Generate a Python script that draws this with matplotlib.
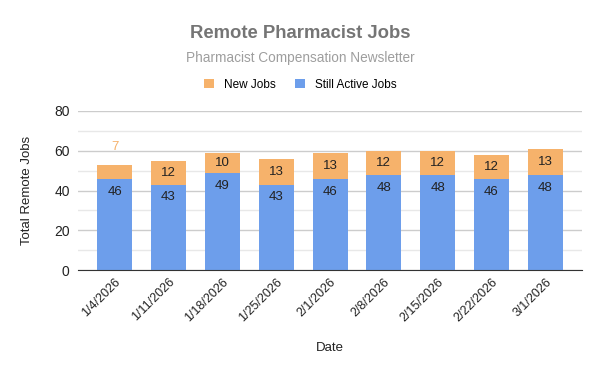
import numpy as np
import matplotlib.pyplot as plt

plt.rcParams['font.family'] = ['Liberation Sans', 'DejaVu Sans']

dates = ['1/4/2026', '1/11/2026', '1/18/2026', '1/25/2026', '2/1/2026',
         '2/8/2026', '2/15/2026', '2/22/2026', '3/1/2026']
still_active = [46, 43, 49, 43, 46, 48, 48, 46, 48]
new_jobs = [7, 12, 10, 13, 13, 12, 12, 12, 13]

blue = '#6d9eeb'
orange = '#f6b26b'

fig = plt.figure(figsize=(6, 3.71), dpi=100)
ax = fig.add_axes([0.13, 0.272, 0.84, 0.429])

x = np.arange(len(dates))
b1 = ax.bar(x, still_active, width=0.65, color=blue, zorder=3)
b2 = ax.bar(x, new_jobs, width=0.65, bottom=still_active, color=orange, zorder=3)

for i in range(len(dates)):
    ax.text(x[i], still_active[i] - 6.5, str(still_active[i]), ha='center', va='center',
            fontsize=9.5, color='#222222', zorder=4)
    if new_jobs[i] >= 10:
        ax.text(x[i], still_active[i] + new_jobs[i] / 2, str(new_jobs[i]), ha='center',
                va='center', fontsize=9.5, color='#222222', zorder=4)
    else:
        ax.text(x[i], still_active[i] + new_jobs[i] + 9, str(new_jobs[i]), ha='center',
                va='center', fontsize=9.5, color=orange, zorder=4)

ax.set_xlim(-0.68, len(dates) - 1 + 0.68)
ax.set_ylim(0, 80)
ax.set_yticks([0, 20, 40, 60, 80])
ax.set_yticks([10, 30, 50, 70], minor=True)
ax.grid(axis='y', which='major', color='#cccccc', linewidth=1, zorder=0)
ax.grid(axis='y', which='minor', color='#e8e8e8', linewidth=1, zorder=0)
ax.tick_params(axis='y', which='both', length=0, labelsize=10, colors='#222222', pad=6)
ax.tick_params(axis='x', length=0, labelsize=9, colors='#222222', pad=4)
ax.set_xticks(x)
ax.set_xticklabels(dates, rotation=45, ha='right', rotation_mode='anchor')
for s in ['top', 'right', 'left']:
    ax.spines[s].set_visible(False)
ax.spines['bottom'].set_color('#333333')
ax.spines['bottom'].set_zorder(5)

ax.set_xlabel('Date', fontsize=9.5, color='#222222', labelpad=13)
ax.set_ylabel('Total Remote Jobs', fontsize=9.5, color='#222222', labelpad=15)

fig.text(0.5, 0.911, 'Remote Pharmacist Jobs', ha='center', va='center',
         fontsize=13.3, fontweight='bold', color='#757575')
fig.text(0.5, 0.843, 'Pharmacist Compensation Newsletter', ha='center', va='center',
         fontsize=9.8, color='#9e9e9e')
fig.legend([b2, b1], ['New Jobs', 'Still Active Jobs'], loc='center',
           bbox_to_anchor=(0.5, 0.772), ncol=2, frameon=False, fontsize=8.5,
           handlelength=0.9, handleheight=0.9, handletextpad=0.8, columnspacing=1.6)

plt.savefig('out.png', dpi=100)
